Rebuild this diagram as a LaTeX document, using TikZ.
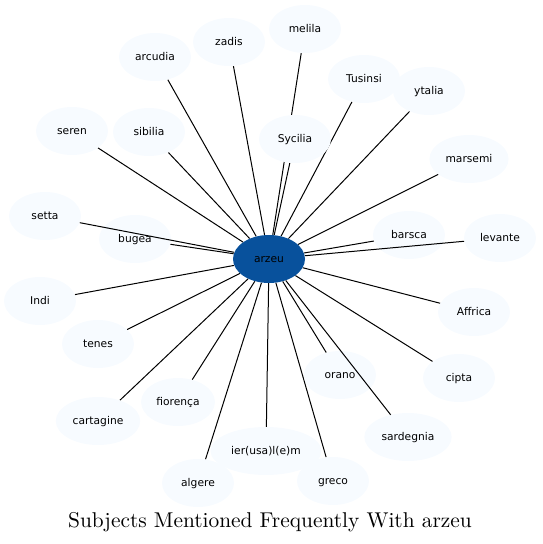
\documentclass[tikz,border=0pt]{standalone}
\usepackage{fontspec}
\newfontfamily\dejavu{DejaVu Sans}
\newfontfamily\titlefont{lmroman10-regular}[Extension=.otf]
\usetikzlibrary{shapes.geometric,backgrounds}
\definecolor{leaf}{HTML}{F7FBFF}
\definecolor{hub}{HTML}{08519C}
\begin{document}
\begin{tikzpicture}[x=1pt,y=-1pt,
  leafnode/.style={ellipse, fill=leaf, minimum width=72pt, minimum height=48pt,
    inner xsep=4.5pt, inner ysep=2pt, text height=8.7pt, text depth=1.5pt,
    font=\dejavu\fontsize{10.7}{12}\selectfont, text=black},
  hubnode/.style={leafnode, fill=hub},
  link/.style={draw=black, line width=1pt},
  titlestyle/.style={font=\titlefont\fontsize{21.4}{25}\selectfont, text=black}]
\useasboundingbox (0,0) rectangle (542,544);

\node[hubnode] (arzeu) at (269,259) {arzeu};
\node[leafnode] (melila) at (305,29) {melila};
\node[leafnode] (zadis) at (229,42) {zadis};
\node[leafnode] (arcudia) at (155,57) {arcudia};
\node[leafnode] (tusinsi) at (364,79) {Tusinsi};
\node[leafnode] (ytalia) at (429,91) {ytalia};
\node[leafnode] (seren) at (72,131) {seren};
\node[leafnode] (sibilia) at (149,132) {sibilia};
\node[leafnode] (sycilia) at (295,139) {Sycilia};
\node[leafnode] (marsemi) at (469,159) {marsemi};
\node[leafnode] (setta) at (45,216) {setta};
\node[leafnode] (bugea) at (135,239) {bugea};
\node[leafnode] (barsca) at (409,235) {barsca};
\node[leafnode] (levante) at (500,238) {levante};
\node[leafnode] (indi) at (40,301) {Indi};
\node[leafnode] (affrica) at (474,312) {Affrica};
\node[leafnode] (tenes) at (98,344) {tenes};
\node[leafnode] (orano) at (340,375) {orano};
\node[leafnode] (cipta) at (459,378) {cipta};
\node[leafnode] (fiorenca) at (178,402) {fiorença};
\node[leafnode] (cartagine) at (98,421) {cartagine};
\node[leafnode] (sardegnia) at (408,437) {sardegnia};
\node[leafnode] (ierusalem) at (266,451) {ier(usa)l(e)m};
\node[leafnode] (algere) at (198,483) {algere};
\node[leafnode] (greco) at (333,481) {greco};

\begin{pgfonlayer}{background}
\foreach \t in {melila,zadis,arcudia,tusinsi,ytalia,seren,sibilia,sycilia,marsemi,
  bugea,barsca,indi,affrica,tenes,orano,cipta,fiorenca,cartagine,ierusalem,algere,greco}
  \draw[link] (arzeu) -- (\t);
\end{pgfonlayer}
\draw[link] (arzeu) -- (setta);
\draw[link] (arzeu) -- (sardegnia);
\draw[link] (arzeu) -- (levante);

\node[titlestyle] (title) at (270,522) {Subjects Mentioned Frequently With arzeu};
\end{tikzpicture}
\end{document}
